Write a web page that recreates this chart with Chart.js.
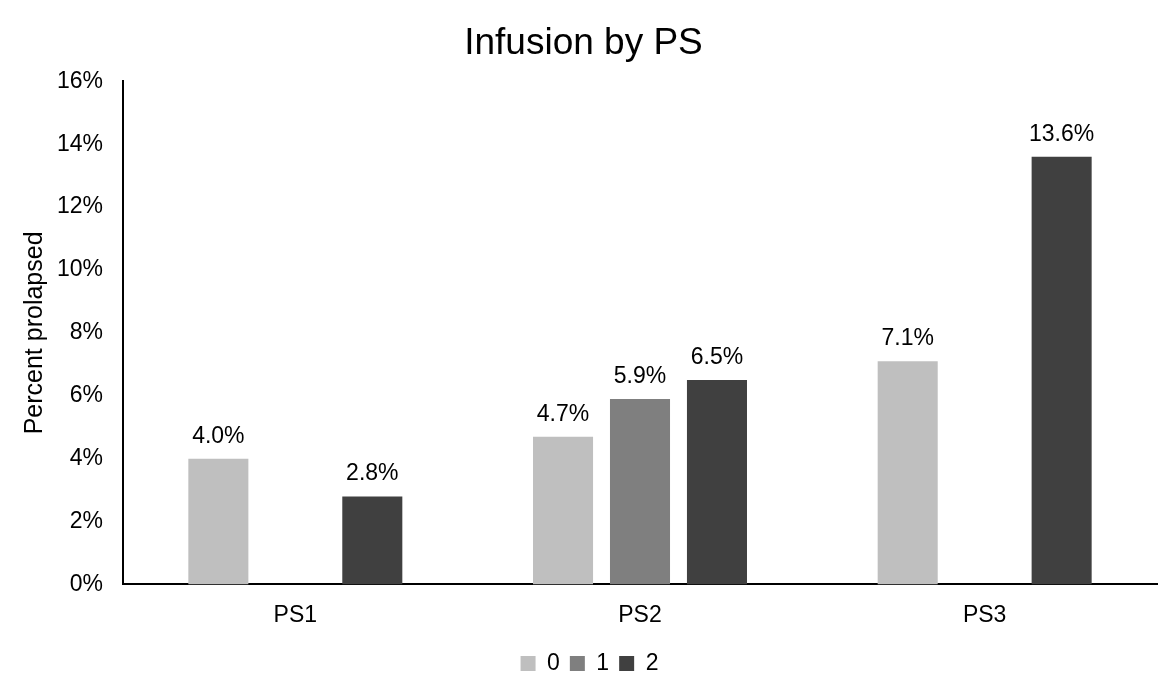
<!DOCTYPE html>
<html>
<head>
<meta charset="utf-8">
<script src="https://cdn.jsdelivr.net/npm/chart.js@4"></script>
<style>
  html, body { margin: 0; padding: 0; background: #fff; }
  #wrap { width: 1166px; height: 678px; position: relative; }
</style>
</head>
<body>
<div id="wrap"><canvas id="c" width="1166" height="678"></canvas></div>
<script>
const categories = ['PS1', 'PS2', 'PS3'];
const seriesNames = ['0', '1', '2'];
const series0 = [4.0, 4.7, 7.1];
const series1 = [null, 5.9, null];
const series2 = [2.8, 6.5, 13.6];
const yTicks = [0, 2, 4, 6, 8, 10, 12, 14, 16];
const colors = ['#bfbfbf', '#7f7f7f', '#404040'];

const FONT = '"Liberation Sans", Arial, sans-serif';

const labelPlugin = {
  id: 'barLabels',
  afterDatasetsDraw(chart) {
    const ctx = chart.ctx;
    ctx.save();
    ctx.font = '23px ' + FONT;
    ctx.fillStyle = '#000';
    ctx.textAlign = 'center';
    ctx.textBaseline = 'alphabetic';
    chart.data.datasets.forEach((ds, i) => {
      const meta = chart.getDatasetMeta(i);
      meta.data.forEach((el, j) => {
        const v = ds.data[j];
        if (v === null || v === undefined) return;
        ctx.fillText(v.toFixed(1) + '%', el.x, el.y - 16);
      });
    });
    ctx.restore();
  }
};

const legendShift = {
  id: 'legendShift',
  afterLayout(chart) {
    if (chart.legend) {
      chart.legend.left += 6;
      chart.legend.right += 6;
    }
  }
};

new Chart(document.getElementById('c'), {
  type: 'bar',
  data: {
    labels: categories,
    datasets: [series0, series1, series2].map((d, i) => ({
      label: seriesNames[i],
      data: d,
      backgroundColor: colors[i],
      borderWidth: 0,
      categoryPercentage: 0.67,
      barPercentage: 0.78
    }))
  },
  options: {
    responsive: false,
    animation: false,
    layout: { padding: { left: 10, right: 9, top: 0, bottom: -7 } },
    plugins: {
      tooltip: { enabled: false },
      title: {
        display: true,
        text: 'Infusion by PS',
        color: '#000',
        font: { family: FONT, size: 37, weight: 'normal' },
        padding: { top: 22, bottom: 15 }
      },
      legend: {
        display: true,
        position: 'bottom',
        labels: {
          color: '#000',
          font: { family: FONT, size: 23 },
          boxWidth: 15,
          boxHeight: 15,
          padding: 10
        }
      }
    },
    scales: {
      x: {
        afterFit(scale) { scale.height -= 4; },
        grid: { display: false, drawTicks: false },
        border: { display: true, color: '#000', width: 2 },
        ticks: { color: '#000', font: { family: FONT, size: 23 }, padding: 17 }
      },
      y: {
        min: 0,
        max: 16,
        afterBuildTicks(scale) { scale.ticks = yTicks.map(v => ({ value: v })); },
        afterFit(scale) { scale.width = 113; },
        grid: { display: false, drawTicks: false },
        border: { display: true, color: '#000', width: 2 },
        ticks: {
          color: '#000',
          font: { family: FONT, size: 23 },
          padding: 20,
          callback: v => v + '%'
        },
        title: {
          display: true,
          text: 'Percent prolapsed',
          color: '#000',
          font: { family: FONT, size: 25 },
          padding: { top: 10, bottom: 0 }
        }
      }
    }
  },
  plugins: [labelPlugin, legendShift]
});
</script>
</body>
</html>
